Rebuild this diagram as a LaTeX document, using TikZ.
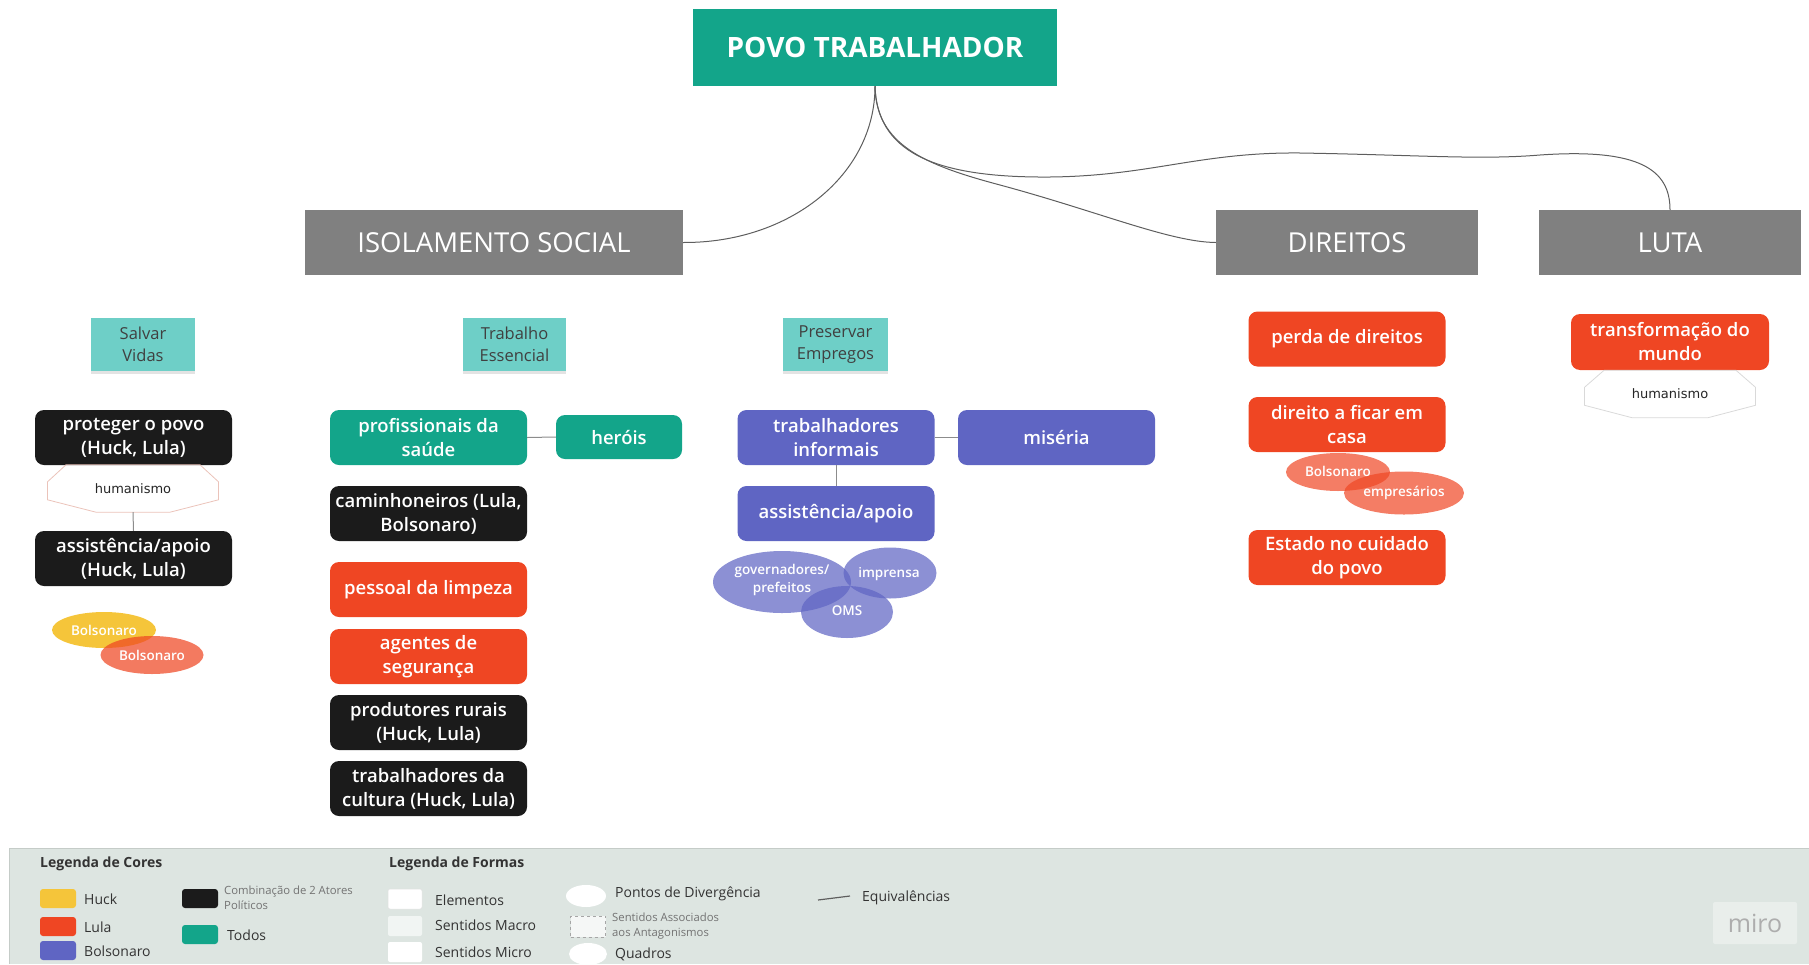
\documentclass[tikz,border=0pt]{standalone}
\usepackage{fontspec}
\setmainfont{Open Sans}
\newfontfamily\semifont{Open Sans Semibold}
\newfontfamily\octfont{DejaVu Sans}
\usetikzlibrary{shapes.geometric,shadows}

\definecolor{tealc}{HTML}{13A58A}
\definecolor{headc}{HTML}{808080}
\definecolor{blackc}{HTML}{1B1B1B}
\definecolor{redc}{HTML}{EF4623}
\definecolor{purpc}{HTML}{5F65C3}
\definecolor{stickyc}{HTML}{6ECFC7}
\definecolor{yellc}{HTML}{F5C53A}
\definecolor{legbg}{HTML}{DDE5E1}
\definecolor{legline}{HTML}{C5CCC8}
\definecolor{octc}{HTML}{EBC3BA}
\definecolor{linkc}{HTML}{8C8C8C}
\definecolor{treec}{HTML}{5E5E5E}

\newcommand\setfs[2]{\fontsize{#1}{#2}\selectfont}

\begin{document}
\begin{tikzpicture}[x=1pt,y=-1pt,
  rootbox/.style={fill=tealc, text=white, minimum width=364pt, minimum height=77pt,
    inner sep=0pt, font=\setfs{28}{32}\bfseries},
  headbox/.style={fill=headc, text=white, minimum height=65pt, inner sep=0pt,
    font=\setfs{27.5}{32}},
  sticky/.style={fill=stickyc, text=black!75, minimum width=104pt, minimum height=53pt,
    inner sep=0pt, align=center, font=\setfs{16.5}{21.5},
    drop shadow={opacity=0.22, shadow xshift=0pt, shadow yshift=-3pt}},
  card/.style={rounded corners=9pt, text=white, minimum width=197pt, minimum height=55pt,
    inner sep=0pt, align=center, font=\semifont\setfs{18.5}{24}},
  blackcard/.style={card, fill=blackc},
  tealcard/.style={card, fill=tealc},
  redcard/.style={card, fill=redc},
  purpcard/.style={card, fill=purpc},
  octlabel/.style={minimum width=171pt, minimum height=47pt, inner sep=0pt,
    font=\octfont\setfs{13}{15}, text=black!85},
  octline/.style={draw=octc, line width=0.8pt},
  blob/.style={ellipse, inner sep=0pt, text=white, align=center,
    font=\semifont\setfs{13.5}{18.5}},
  link/.style={draw=linkc, line width=1pt},
  tree/.style={draw=treec, line width=1pt},
  legtitle/.style={anchor=west, inner sep=0pt, font=\setfs{14}{16}\bfseries, text=black!80},
  legtext/.style={anchor=west, inner sep=0pt, font=\setfs{14}{16}, text=black!80},
  legsmall/.style={anchor=west, inner sep=0pt, align=left, font=\setfs{11.3}{15}, text=black!55},
  swatch/.style={rounded corners=3pt, minimum width=36pt, minimum height=19pt, inner sep=0pt},
  shapesw/.style={rounded corners=2pt, minimum width=34pt, minimum height=20pt, inner sep=0pt,
    fill=white, draw=black!12, line width=0.5pt},
]
\useasboundingbox (0,0) rectangle (1809,964);

% ---------- main headings ----------
\node[rootbox] (povo) at (875,47.5) {POVO TRABALHADOR};
\node[headbox, minimum width=378pt] (iso) at (494,242.5) {ISOLAMENTO SOCIAL};
\node[headbox, minimum width=262pt] (dir) at (1347,242.5) {DIREITOS};
\node[headbox, minimum width=262pt] (luta) at (1670,242.5) {LUTA};

% ---------- tree connectors ----------
\coordinate (bendA) at (1000,185);
\coordinate (bendB) at (1050,177);
\coordinate (bendC) at (1300,153);
\coordinate (bendD) at (1540,155);
\draw[tree] (povo.south) .. controls (875,175) and (790,243) .. (iso.east);
\draw[tree] (povo.south) .. controls (876,145) and (925,165) .. (bendA)
  .. controls (1100,212) and (1170,242) .. (dir.west);
\draw[tree] (povo.south) .. controls (877,150) and (930,178) .. (bendB)
  .. controls (1150,176) and (1200,152) .. (bendC)
  .. controls (1420,155) and (1480,160) .. (bendD)
  .. controls (1640,148) and (1670,170) .. (luta.north);

% ---------- sticky notes ----------
\node[sticky] (salvar) at (143,344.5) {Salvar\\Vidas};
\node[sticky, minimum width=103pt] (essencial) at (514.5,344.5) {Trabalho\\Essencial};
\node[sticky, minimum width=105pt] (empregos) at (835.5,344.5) {Preservar\\Empregos};

% ---------- column: Salvar Vidas ----------
\node[blackcard] (proteger) at (133.5,437.5) {proteger o povo\\(Huck, Lula)};
\node[octlabel] (hum1) at (133,488.5) {humanismo};
\draw[octline] ([shift={(-67,0)}]hum1.north) -- ([shift={(67,0)}]hum1.north)
  -- ([shift={(85.5,17)}]hum1.north) -- ([shift={(85.5,35)}]hum1.north)
  -- ([shift={(37,0)}]hum1.south) -- ([shift={(-37,0)}]hum1.south)
  -- ([shift={(-85.5,35)}]hum1.north) -- ([shift={(-85.5,17)}]hum1.north) -- cycle;
\node[blackcard] (apoio1) at (133.5,558.5) {assistência/apoio\\(Huck, Lula)};
\draw[link] (hum1.south) -- (apoio1.north);
\node[blob, fill=yellc, minimum width=104pt, minimum height=36pt] (bolsY) at (104,630) {};
\node[blob, fill=redc, fill opacity=0.72, minimum width=103pt, minimum height=38pt] (bolsR) at (152,655) {};
\node[blob] at (bolsY.center) {Bolsonaro};
\node[blob] at (bolsR.center) {Bolsonaro};

% ---------- column: Trabalho Essencial ----------
\node[tealcard] (saude) at (428.5,437.5) {profissionais da\\saúde};
\node[tealcard, minimum width=126pt, minimum height=44pt] (herois) at (619,437) {heróis};
\draw[link] (saude.east) -- (herois.west);
\node[blackcard] (caminh) at (428.5,513.5) {caminhoneiros (Lula,\\Bolsonaro)};
\node[redcard] (limpeza) at (428.5,589.5) {pessoal da limpeza};
\node[redcard] (seguranca) at (428.5,656.5) {agentes de\\segurança};
\node[blackcard] (rurais) at (428.5,722.5) {produtores rurais\\(Huck, Lula)};
\node[blackcard] (cultura) at (428.5,788.5) {trabalhadores da\\cultura (Huck, Lula)};

% ---------- column: Preservar Empregos ----------
\node[purpcard] (informais) at (836,437.5) {trabalhadores\\informais};
\node[purpcard] (miseria) at (1056.5,437.5) {miséria};
\draw[link] (informais.east) -- (miseria.west);
\node[purpcard] (apoio2) at (836,513.5) {assistência/apoio};
\draw[link] (informais.south) -- (apoio2.north);
\node[blob, fill=purpc, fill opacity=0.72, minimum width=138pt, minimum height=62pt] (gov) at (782,582) {};
\node[blob, fill=purpc, fill opacity=0.72, minimum width=93pt, minimum height=51pt] (imp) at (890,573) {};
\node[blob, fill=purpc, fill opacity=0.72, minimum width=92pt, minimum height=52pt] (oms) at (847,612) {};
\node[blob] at (782,580) {governadores/\\prefeitos};
\node[blob] at (889,574) {imprensa};
\node[blob] at (847,611) {OMS};

% ---------- column: Direitos ----------
\node[redcard] (perda) at (1347,339) {perda de direitos};
\node[redcard] (casa) at (1347,424.5) {direito a ficar em\\casa};
\node[blob, fill=redc, fill opacity=0.7, minimum width=104pt, minimum height=38pt] (bolsD) at (1338,472) {};
\node[blob, fill=redc, fill opacity=0.7, minimum width=120pt, minimum height=43pt] (empres) at (1404,493) {};
\node[blob] at (1338,471) {Bolsonaro};
\node[blob] at (1404,493) {empresários};
\node[redcard] (estado) at (1347,557.5) {Estado no cuidado\\do povo};

% ---------- column: Luta ----------
\node[redcard, minimum width=198pt, minimum height=56pt] (transf) at (1670,342) {transformação do\\mundo};
\node[octlabel] (hum2) at (1670,394) {humanismo};
\draw[octline, draw=black!15] ([shift={(-66,0)}]hum2.north) -- ([shift={(66,0)}]hum2.north)
  -- ([shift={(85.5,17)}]hum2.north) -- ([shift={(85.5,35)}]hum2.north)
  -- ([shift={(38,0)}]hum2.south) -- ([shift={(-38,0)}]hum2.south)
  -- ([shift={(-85.5,35)}]hum2.north) -- ([shift={(-85.5,17)}]hum2.north) -- cycle;

% ---------- legend panel ----------
\path[fill=legbg] (9,848) rectangle (1809,964);
\draw[legline, line width=1pt] (9,964) -- (9,848) -- (1809,848);

\node[legtitle] (cores) at (40,864) {Legenda de Cores};
\node[swatch, fill=yellc] (swY) at (58,898.5) {};
\node[legtext] at (84,899) {Huck};
\node[swatch, fill=redc] (swR) at (58,926.5) {};
\node[legtext] at (84,927) {Lula};
\node[swatch, fill=purpc] (swP) at (58,950.5) {};
\node[legtext] at (84,951) {Bolsonaro};
\node[swatch, fill=blackc] (swK) at (200,898.5) {};
\node[legsmall] at (224,898) {Combinação de 2 Atores\\Políticos};
\node[swatch, fill=tealc] (swT) at (200,934.5) {};
\node[legtext] at (227,935) {Todos};

\node[legtitle] (formas) at (389,864) {Legenda de Formas};
\node[shapesw] (shE) at (405,899) {};
\node[legtext] at (435,900) {Elementos};
\node[shapesw, fill=white!60!legbg, draw=none] (shMa) at (405,926) {};
\node[legtext] at (435,925) {Sentidos Macro};
\node[shapesw, draw=none] (shMi) at (405,952) {};
\node[legtext] at (435,952) {Sentidos Micro};
\node[ellipse, fill=white, minimum width=40pt, minimum height=22pt, inner sep=0pt] (elDiv) at (586,896) {};
\node[legtext] at (615,894) {Pontos de Divergência};
\node[minimum width=35pt, minimum height=21pt, inner sep=0pt, fill=white!70!legbg,
  draw=black!35, dashed, line width=0.5pt] (shAnt) at (588,926.5) {};
\node[legsmall] at (612,926) {Sentidos Associados\\aos Antagonismos};
\node[ellipse, fill=white, minimum width=38pt, minimum height=22pt, inner sep=0pt] (elQua) at (588,954) {};
\node[legtext] at (615,954) {Quadros};
\coordinate (eqA) at (818,900);
\coordinate (eqB) at (850,896);
\draw[treec, line width=1.2pt] (eqA) -- (eqB);
\node[legtext] at (862,898) {Equivalências};

\node[fill=white!35!legbg, rounded corners=2pt, minimum width=84pt, minimum height=42pt,
  inner sep=0pt, text=black!32, font=\setfs{25}{28}] (miro) at (1755,923) {miro};
\end{tikzpicture}
\end{document}
